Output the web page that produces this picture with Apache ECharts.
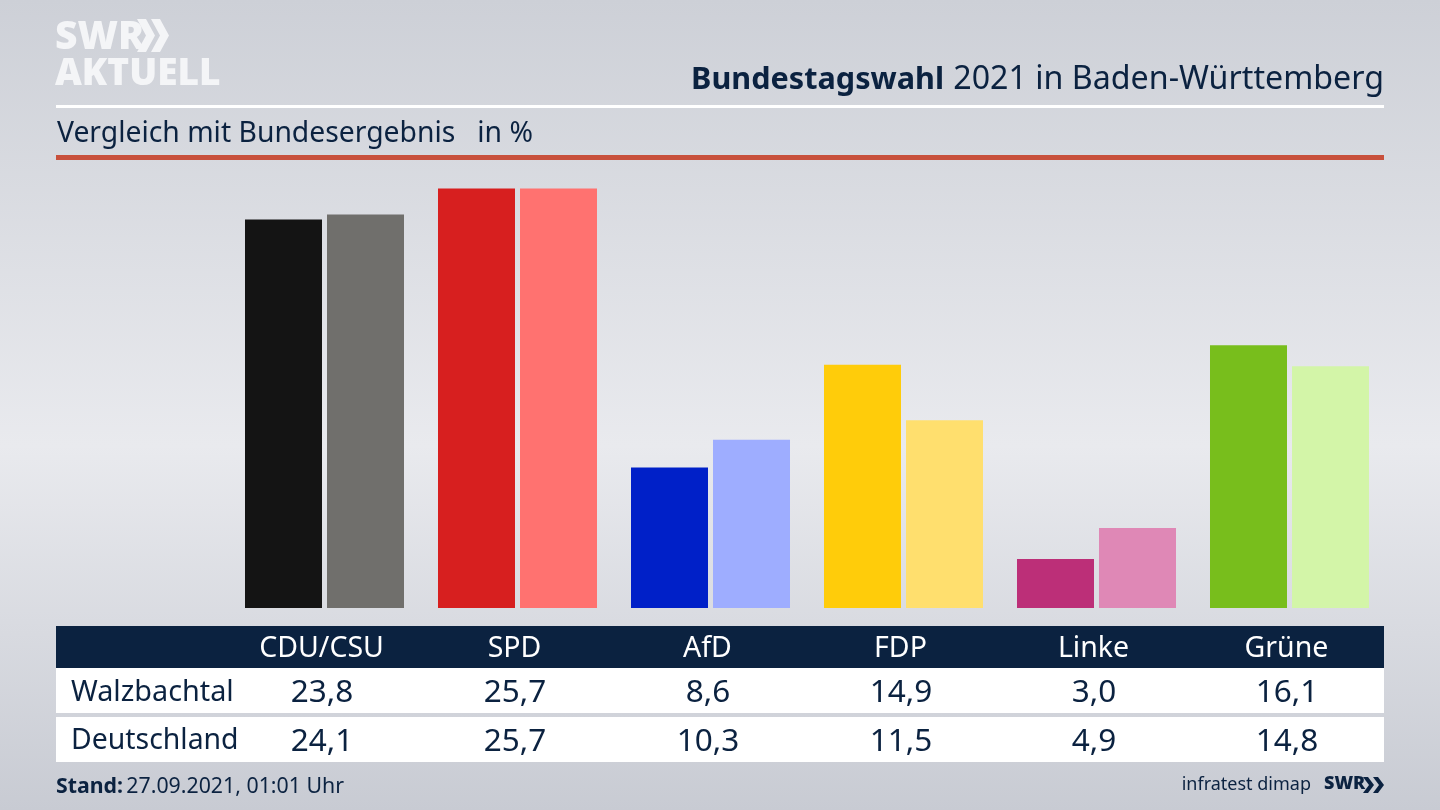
<!DOCTYPE html>
<html>
<head>
<meta charset="utf-8">
<title>Bundestagswahl 2021</title>
<script src="https://cdn.jsdelivr.net/npm/echarts@6/dist/echarts.min.js"></script>
<style>
html,body{margin:0;padding:0;background:#d5d8de;}
#main{width:1440px;height:810px;}
</style>
</head>
<body>
<div id="main"></div>
<script>
var categories = ['CDU/CSU','SPD','AfD','FDP','Linke','Grüne'];
var walzbachtal = [23.8,25.7,8.6,14.9,3.0,16.1];
var deutschland = [24.1,25.7,10.3,11.5,4.9,14.8];
var rowNames = ['Walzbachtal','Deutschland'];
var darkColors = ['#141414','#d71f1f','#0020c8','#ffcc0a','#bc2f78','#78be1c'];
var lightColors = ['#706f6c','#ff7270','#9eadff','#ffdf6e','#df88b6','#d3f5a8'];

var navy = '#0b2240';
var logoWhite = '#f4f5f7';
var fontName = '"Noto Sans", sans-serif';

function fmt(v){
    return v.toFixed(1).replace('.',',');
}

function coloured(values,colors){
    return values.map(function(v,i){
        return {value:v,itemStyle:{color:colors[i]}};
    });
}

//logo pfeil
function chevron(x,y,w,h,t,color){
    return {type:'polygon',shape:{points:[[x,y],[x+t,y],[x+w,y+h/2],[x+t,y+h],[x,y+h],[x+w-t,y+h/2]]},style:{fill:color}};
}

// kopf und tabelle
var graphics = [
    {type:'rect',z:-1,shape:{x:56,y:105,width:1328,height:3},style:{fill:'#ffffff'}},
    {type:'rect',z:-1,shape:{x:56,y:155,width:1328,height:5},style:{fill:'#c8503c'}},
    {type:'rect',z:-1,shape:{x:56,y:626,width:1328,height:42},style:{fill:navy}},
    {type:'rect',z:-1,shape:{x:56,y:668,width:1328,height:45},style:{fill:'#ffffff'}},
    {type:'rect',z:-1,shape:{x:56,y:717,width:1328,height:45},style:{fill:'#ffffff'}},
    {type:'text',x:55,y:18,style:{text:'SWR',fill:logoWhite,font:'900 39px '+fontName}},
    {type:'text',x:55,y:56,style:{text:'AKTUELL',fill:logoWhite,font:'900 37px '+fontName}},
    chevron(137,19,18,33,9,logoWhite),
    chevron(151,19,18,33,9,logoWhite),
    {type:'text',x:944,y:65,style:{text:'Bundestagswahl',align:'right',fill:navy,font:'700 30.6px '+fontName}},
    {type:'text',x:1384,y:64,style:{text:'2021 in Baden-Württemberg',align:'right',fill:navy,font:'400 32.2px '+fontName}},
    {type:'text',x:57,y:120,style:{text:'Vergleich mit Bundesergebnis   in %',fill:navy,font:'400 28.3px '+fontName}},
    {type:'text',x:71,y:678,style:{text:rowNames[0],fill:navy,font:'400 28.8px '+fontName}},
    {type:'text',x:71,y:727,style:{text:rowNames[1],fill:navy,font:'400 28.4px '+fontName}},
    {type:'text',x:56,y:776,style:{
        text:'{b|Stand:} {n|27.09.2021, 01:01 Uhr}',
        rich:{
            b:{font:'700 21.3px '+fontName,fill:navy},
            n:{font:'400 21.3px '+fontName,fill:navy}
        }
    }},
    {type:'text',x:1311,y:776,style:{text:'infratest dimap',align:'right',fill:navy,font:'400 18px '+fontName}},
    {type:'text',x:1324,y:775,style:{text:'SWR',fill:navy,font:'900 18px '+fontName}},
    chevron(1363,777,11,16,5,navy),
    chevron(1373,777,11,16,5,navy)
];

var myChart = echarts.init(document.getElementById('main'),null,{renderer:'canvas'});
var option = {
    animation:false,
    backgroundColor:new echarts.graphic.LinearGradient(0,0,0,1,[
        {offset:0,color:'#cdd0d7'},
        {offset:0.55,color:'#e9eaee'},
        {offset:1,color:'#c8cbd3'}
    ]),
    graphic:graphics,
    grid:{left:228,top:183.5,width:1158,height:424.5},
    xAxis:{
        type:'category',
        data:categories,
        axisLine:{show:false},
        axisTick:{show:false},
        axisLabel:{
            margin:21,
            interval:0,
            fontFamily:fontName,
            formatter:function(name,i){
                return '{h|'+name+'}\n{v|'+fmt(walzbachtal[i])+'}\n{v|'+fmt(deutschland[i])+'}';
            },
            rich:{
                h:{color:'#ffffff',fontSize:28.5,fontFamily:fontName,lineHeight:40,padding:[0,6,0,0]},
                v:{color:navy,fontSize:31.5,fontFamily:fontName,lineHeight:49,padding:[0,5,0,0]}
            }
        }
    },
    yAxis:{type:'value',min:0,max:26,show:false,splitLine:{show:false}},
    series:[
        {name:rowNames[0],type:'bar',data:coloured(walzbachtal,darkColors),barWidth:77,barGap:'6.5%'},
        {name:rowNames[1],type:'bar',data:coloured(deutschland,lightColors),barWidth:77}
    ]
};
myChart.setOption(option);
</script>
</body>
</html>
